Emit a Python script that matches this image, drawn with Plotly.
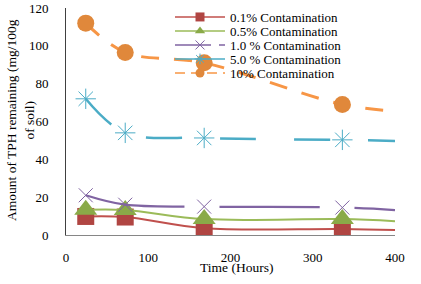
import plotly.graph_objects as go

# Data
hours = [24, 72, 168, 336, 400]  # last point is the end of the curve (no marker)
c01 = [9.8, 9.5, 3.6, 3.2, 2.6]
c05 = [13.3, 13.2, 8.4, 8.4, 7.3]
c10 = [21.0, 16.0, 15.0, 14.5, 13.2]
c50 = [72.0, 54.0, 51.3, 50.3, 49.7]
c100 = [112.0, 96.5, 91.0, 69.0, 65.5]
names = ["0.1% Contamination", "0.5% Contamination", "1.0 % Contamination",
         "5.0 % Contamination", "10% Contamination"]
x_ticks = [0, 100, 200, 300, 400]
y_ticks = [0, 20, 40, 60, 80, 100, 120]

FONT = "'Liberation Serif', 'Times New Roman', Times, serif"
W, H = 421, 284

series = [
    dict(y=c01, color="#C0504D", width=2, dash="solid", symbol="square", msize=17,
         mcolor="#B04542", mlw=0, legdash="solid"),
    dict(y=c05, color="#9BBB59", width=2, dash="solid", symbol="triangle-up", msize=20,
         mcolor="#8AAA48", mlw=0, legdash="solid"),
    dict(y=c10, color="#8064A2", width=2.25, dash="100px,35px", symbol="x-thin-open", msize=14,
         mcolor="#8064A2", mlw=1, legdash="36px,8px"),
    dict(y=c50, color="#4BACC6", width=2.5, dash="36px,38px", symbol="asterisk-open", msize=17,
         mcolor="#4BACC6", mlw=1, legdash="solid"),
    dict(y=c100, color="#F79646", width=3, dash="18px,15px", symbol="circle", msize=17,
         mcolor="#E0883B", mlw=0, legdash="10px,6px"),
]

fig = go.Figure()
# data traces
for name, s in zip(names, series):
    sizes = [s["msize"]] * (len(hours) - 1) + [0]
    fig.add_trace(go.Scatter(
        x=hours, y=s["y"], name=name, mode="lines+markers", showlegend=False,
        line=dict(shape="spline", smoothing=1.0, color=s["color"], width=s["width"], dash=s["dash"]),
        marker=dict(symbol=s["symbol"], size=sizes, color=s["mcolor"], opacity=1,
                    line=dict(width=s["mlw"], color=s["mcolor"])),
    ))

# plot area in px: x 66..395, y 8..235
def py(v):
    return (235 - v) / 227.0

def px(v):
    return (v - 66) / 329.0

# legend entries (one legend per row for tight spacing), placed in container coords
row_y = [17, 31, 45, 59, 73]
legends = {}
for i, (name, s, ry) in enumerate(zip(names, series, row_y)):
    key = "legend" if i == 0 else f"legend{i+1}"
    fig.add_trace(go.Scatter(
        x=[None], y=[None], name=name, mode="lines+markers", legend=key,
        line=dict(color=s["color"], width=1.5, dash=s["legdash"]),
        marker=dict(symbol=s["symbol"], size=9, color=s["mcolor"], opacity=1,
                    line=dict(width=s["mlw"], color=s["mcolor"])),
    ))
    legends[key] = dict(xref="container", yref="container",
                        y=1 - ry / H, x=170 / W, xanchor="left", yanchor="middle",
                        bgcolor="rgba(0,0,0,0)", borderwidth=0, itemwidth=50,
                        font=dict(family=FONT, size=13, color="black"))

fig.update_layout(
    width=W, height=H,
    margin=dict(l=66, r=26, t=8, b=49, autoexpand=False),
    paper_bgcolor="white", plot_bgcolor="white",
    font=dict(family=FONT, size=13, color="black"),
    showlegend=True,
    **legends,
    xaxis=dict(range=[0, 400], tickvals=x_ticks, showgrid=False, zeroline=False,
               showline=True, linecolor="#868686", linewidth=1, ticks="",
               automargin=False,
               ticklabelstandoff=10, tickfont=dict(family=FONT, size=13, color="black"),
               fixedrange=True),
    yaxis=dict(range=[0, 120], tickvals=y_ticks, showgrid=False, zeroline=False,
               showline=True, linecolor="#404040", linewidth=1, ticks="",
               automargin=False,
               ticklabelstandoff=14, tickfont=dict(family=FONT, size=13, color="black"),
               fixedrange=True),
    annotations=[
        dict(text="Amount of TPH remaining (mg/100g<br>of soil)", textangle=-90,
             xref="paper", yref="paper", x=px(21), y=py(120), xanchor="center",
             yanchor="middle", showarrow=False,
             font=dict(family=FONT, size=13.5, color="black")),
        dict(text="Time (Hours)", xref="paper", yref="paper", x=px(236), y=py(267),
             xanchor="center", yanchor="middle", showarrow=False,
             font=dict(family=FONT, size=13.5, color="black")),
    ],
)

fig.write_html("out.html", config={"displayModeBar": False, "staticPlot": True},
               post_script="document.body.style.margin='0';")
